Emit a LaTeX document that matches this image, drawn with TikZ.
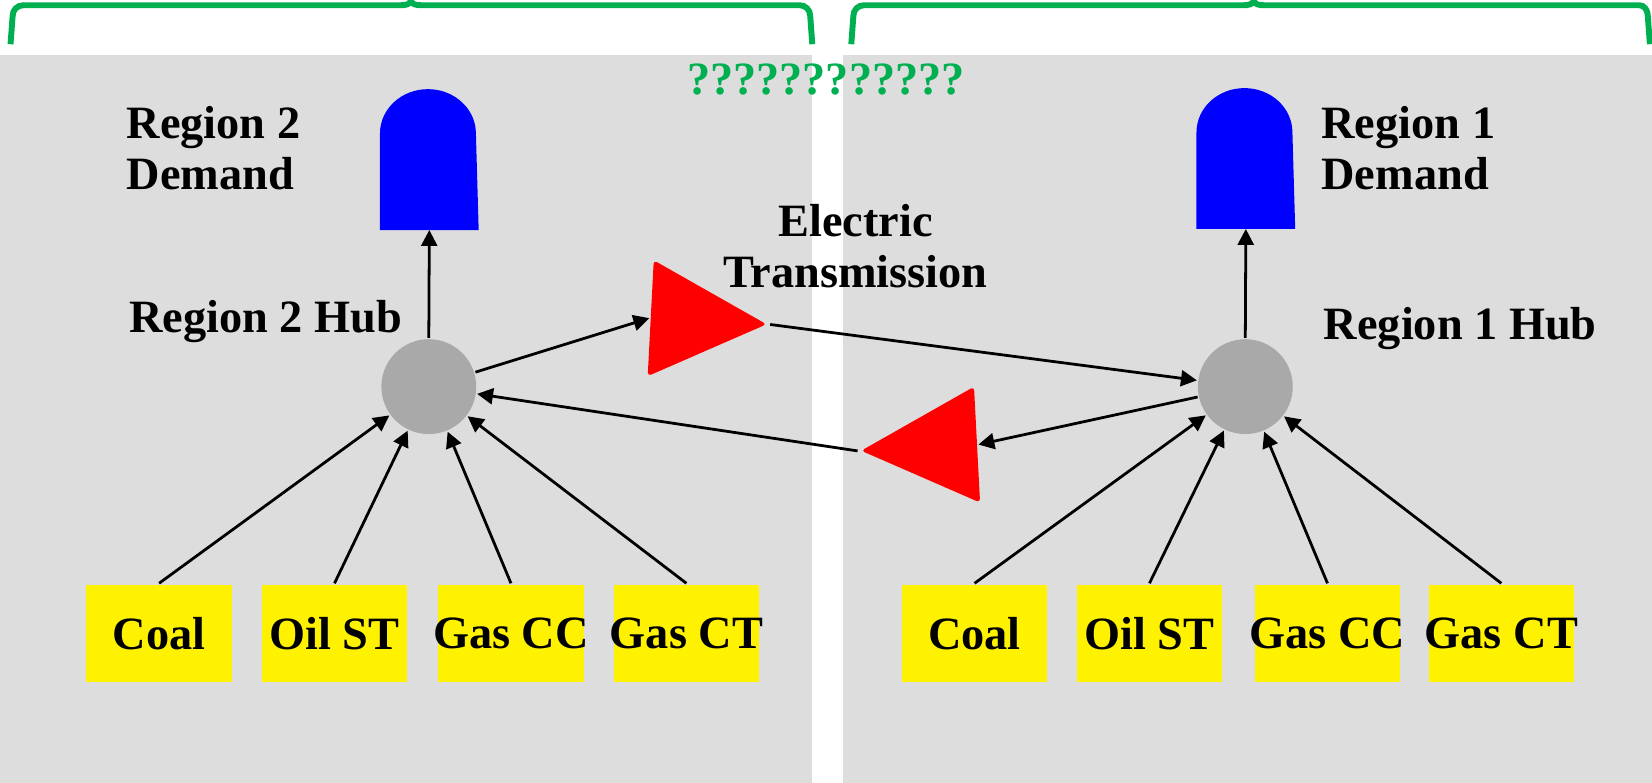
\documentclass[tikz,border=0pt]{standalone}
\usepackage{fontspec}
\setmainfont{Liberation Serif}
\usetikzlibrary{shapes.geometric,arrows.meta}

\definecolor{panelgray}{RGB}{221,221,221}
\definecolor{hubgray}{RGB}{169,169,169}
\definecolor{bracegreen}{RGB}{0,176,80}

\tikzset{
  hub/.style={circle, fill=hubgray, minimum size=0.9cm, inner sep=0},
  demand/.style={rectangle, minimum width=0.91cm, minimum height=0.89cm, inner sep=0},
  plant/.style={rectangle, fill=yellow, minimum width=1.38cm, minimum height=0.92cm, inner xsep=-0.05cm},
  link/.style={isosceles triangle, isosceles triangle stretches, fill=red, minimum width=1.1cm, minimum height=1.1cm, inner sep=0, rounded corners=1pt},
  lbl/.style={align=left, inner sep=0}
}

\begin{document}
\begin{tikzpicture}[x=0.01cm, y=0.01cm, line width=0.75pt, >={Triangle[length=4.3pt,width=4.3pt]},
    font=\bfseries\fontsize{12.5}{13.7}\selectfont]
  \useasboundingbox (0,0) rectangle (1568,743);

  % the two regions
  \fill[panelgray] (0,0) rectangle (771,691);
  \fill[panelgray] (800,0) rectangle (1568,691);

  % braces
  \draw[bracegreen, line width=1.6pt] (10,701) -- (12,728) to[out=90,in=180] (22,738) -- (380,738)
    to[out=0,in=270] (390,743) to[out=270,in=180] (400,738) -- (759,738) to[out=0,in=90] (769,728) -- (771,701);
  \draw[bracegreen, line width=1.6pt] (808,701) -- (810,728) to[out=90,in=180] (820,738) -- (1180,738)
    to[out=0,in=270] (1190,743) to[out=270,in=180] (1200,738) -- (1556,738) to[out=0,in=90] (1564,728) -- (1566,701);
  \node[text=bracegreen] (qm) at (784,668) {????????????};

  % demands
  \node[demand] (d2) at (407.5,570.5) {};
  \fill[blue] (d2.south west) -- (d2.north west) arc[start angle=180, end angle=0, x radius=0.455cm, y radius=0.42cm] -- (d2.south east) -- cycle;
  \node[demand] (d1) at (1182.5,571.5) {};
  \fill[blue] (d1.south west) -- (d1.north west) arc[start angle=180, end angle=0, x radius=0.455cm, y radius=0.42cm] -- (d1.south east) -- cycle;
  \node[lbl, anchor=west] (r2d) at (119,602) {Region 2\\Demand};
  \node[lbl, anchor=west] (r1d) at (1253,602) {Region 1\\Demand};

  % hubs
  \node[hub] (h2) at (407,376) {};
  \node[hub] (h1) at (1182,376) {};
  \node (r2h) at (252,438) {Region 2 Hub};
  \node (r1h) at (1386,431) {Region 1 Hub};

  % transmission
  \node[link, rotate=-3, anchor=apex] (t1) at (731,435) {};
  \node[link, rotate=183, anchor=apex] (t2) at (814,315) {};
  \node[align=center] (et) at (812,509) {Electric\\Transmission};

  % plants
  \node[plant] (coal2) at (151,142) {Coal};
  \node[plant] (oil2) at (317.5,142) {Oil ST};
  \node[plant] (gcc2) at (485,142) {Gas CC};
  \node[plant] (gct2) at (651.5,142) {Gas CT};
  \node[plant] (coal1) at (925,142) {Coal};
  \node[plant] (oil1) at (1091,142) {Oil ST};
  \node[plant] (gcc1) at (1260,142) {Gas CC};
  \node[plant] (gct1) at (1425,142) {Gas CT};

  \draw[->] (h2.north) -- (d2.south);
  \draw[->] (h1.north) -- (d1.south);
  \draw[->] (h2) -- (t1.lower side);
  \draw[->] (t1.apex) -- (h1);
  \draw[->] (h1) -- (t2.lower side);
  \draw[->] (t2.apex) -- (h2);

  \draw[->] (coal2.north) -- (h2);
  \draw[->] (oil2.north) -- (h2);
  \draw[->] (gcc2.north) -- (h2);
  \draw[->] (gct2.north) -- (h2);
  \draw[->] (coal1.north) -- (h1);
  \draw[->] (oil1.north) -- (h1);
  \draw[->] (gcc1.north) -- (h1);
  \draw[->] (gct1.north) -- (h1);
\end{tikzpicture}
\end{document}
